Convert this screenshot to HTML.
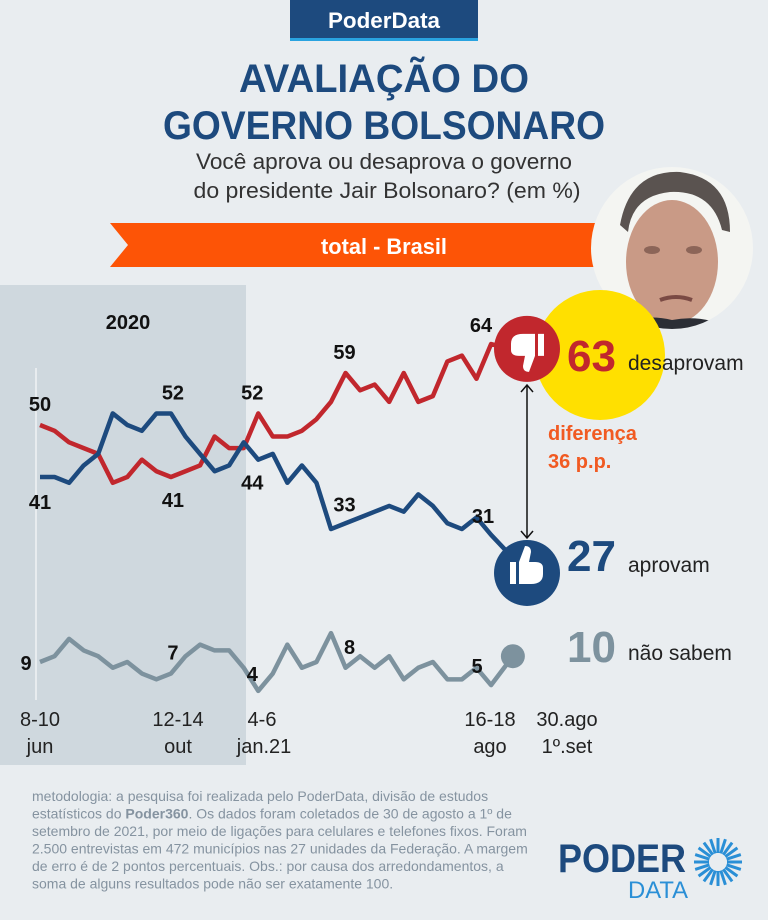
<!DOCTYPE html>
<html><head><meta charset="utf-8"><style>
html,body{margin:0;padding:0;background:#e9edf0;}
svg{display:block;font-family:"Liberation Sans",sans-serif;}
</style></head><body>
<svg id="chart" width="768" height="920" viewBox="0 0 768 920">
<rect x="0" y="0" width="768" height="920" fill="#e9edf0"/>
<g>
<rect x="290" y="0" width="188" height="38" fill="#1d4a7e"/>
<rect x="290" y="38" width="188" height="3" fill="#29a3e0"/>
<text x="384" y="28" text-anchor="middle" font-size="22" font-weight="bold" fill="#fff" textLength="112" lengthAdjust="spacingAndGlyphs">PoderData</text>
<text x="384" y="92" text-anchor="middle" font-size="40" font-weight="bold" fill="#1d4a7e" textLength="290" lengthAdjust="spacingAndGlyphs">AVALIAÇÃO DO</text>
<text x="384" y="139" text-anchor="middle" font-size="40" font-weight="bold" fill="#1d4a7e" textLength="442" lengthAdjust="spacingAndGlyphs">GOVERNO BOLSONARO</text>
<text x="384" y="169" text-anchor="middle" font-size="22" fill="#333" textLength="376" lengthAdjust="spacingAndGlyphs">Você aprova ou desaprova o governo</text>
<text x="387" y="198" text-anchor="middle" font-size="22" fill="#333" textLength="387" lengthAdjust="spacingAndGlyphs">do presidente Jair Bolsonaro?  (em %)</text>
<polygon points="110,223 600,223 600,267 110,267 128,245" fill="#fd5406"/>
<text x="384" y="254" text-anchor="middle" font-size="22" font-weight="bold" fill="#fff" textLength="126" lengthAdjust="spacingAndGlyphs">total - Brasil</text>
<g>
<circle cx="672" cy="248" r="81" fill="#f4f5f2"/>
<clipPath id="ph"><circle cx="672" cy="248" r="81"/></clipPath>
<g clip-path="url(#ph)">
<ellipse cx="672" cy="262" rx="46" ry="62" fill="#c99a86"/>
<path d="M620 225 Q630 170 680 172 Q730 178 730 232 L722 230 Q712 190 670 192 Q632 196 628 232 Z" fill="#5a5350"/>
<path d="M600 340 Q630 310 672 320 Q712 312 750 340 Z" fill="#2b2e35"/>
<ellipse cx="652" cy="250" rx="8" ry="4" fill="#8c6558"/>
<ellipse cx="694" cy="250" rx="8" ry="4" fill="#8c6558"/>
<path d="M660 300 Q676 294 692 300" stroke="#7a4a44" stroke-width="4" fill="none"/>
</g>
</g>
</g>
<rect x="0" y="285" width="246" height="480" fill="#cfd8de"/>
<text x="128" y="329" text-anchor="middle" font-size="20" font-weight="bold" fill="#111">2020</text>
<line x1="36" y1="368" x2="36" y2="700" stroke="#ffffff" stroke-width="1.5" opacity="0.7"/>
<circle cx="600" cy="355" r="65" fill="#ffe000"/>
<g id="plot"></g>
<g>
<text x="40" y="726" text-anchor="middle" font-size="20" fill="#222">8-10</text>
<text x="40" y="753" text-anchor="middle" font-size="20" fill="#222">jun</text>
<text x="178" y="726" text-anchor="middle" font-size="20" fill="#222">12-14</text>
<text x="178" y="753" text-anchor="middle" font-size="20" fill="#222">out</text>
<text x="262" y="726" text-anchor="middle" font-size="20" fill="#222">4-6</text>
<text x="264" y="753" text-anchor="middle" font-size="20" fill="#222">jan.21</text>
<text x="490" y="726" text-anchor="middle" font-size="20" fill="#222">16-18</text>
<text x="490" y="753" text-anchor="middle" font-size="20" fill="#222">ago</text>
<text x="567" y="726" text-anchor="middle" font-size="20" fill="#222">30.ago</text>
<text x="567" y="753" text-anchor="middle" font-size="20" fill="#222">1º.set</text>
</g>
<g>
<text x="567" y="371" font-size="44" font-weight="bold" fill="#c1272d">63</text>
<text x="628" y="370" font-size="21" fill="#222">desaprovam</text>
<text x="567" y="571" font-size="44" font-weight="bold" fill="#1d4a7e">27</text>
<text x="628" y="572" font-size="21" fill="#222">aprovam</text>
<text x="567" y="662" font-size="44" font-weight="bold" fill="#7d929e">10</text>
<text x="628" y="660" font-size="21" fill="#222">não sabem</text>
<text x="548" y="440" font-size="20" font-weight="bold" fill="#f15a22">diferença</text>
<text x="548" y="468" font-size="20" font-weight="bold" fill="#f15a22">36 p.p.</text>
<line x1="527" y1="385" x2="527" y2="538" stroke="#111" stroke-width="1.5"/>
<polyline points="521,392 527,385 533,392" fill="none" stroke="#111" stroke-width="1.5"/>
<polyline points="521,531 527,538 533,531" fill="none" stroke="#111" stroke-width="1.5"/>
</g>
<g font-size="14" fill="#8593a0">
<text x="32" y="801">metodologia: a pesquisa foi realizada pelo PoderData, divisão de estudos</text>
<text x="32" y="818.5">estatísticos do <tspan font-weight="bold">Poder360</tspan>. Os dados foram coletados de 30 de agosto a 1º de</text>
<text x="32" y="836">setembro de 2021, por meio de ligações para celulares e telefones fixos. Foram</text>
<text x="32" y="853.5">2.500 entrevistas em 472 municípios nas 27 unidades da Federação. A margem</text>
<text x="32" y="871">de erro é de 2 pontos percentuais. Obs.: por causa dos arredondamentos, a</text>
<text x="32" y="888.5">soma de alguns resultados pode não ser exatamente 100.</text>
</g>
<g>
<text x="558" y="872" font-size="40" font-weight="bold" fill="#1d4a7e" textLength="128" lengthAdjust="spacingAndGlyphs">PODER</text>
<text x="628" y="898" font-size="24" fill="#2a8fd6" textLength="60" lengthAdjust="spacingAndGlyphs">DATA</text>
<g id="sun"></g>
</g>
</svg>
<script>
const categories=["8-10 jun","","","","","","","","","12-14 out","","","","","","4-6 jan.21","","","","","","","","","","","","","","","","16-18 ago","30.ago-1º.set"];
const xIndex=[0,1,2,3,4,5,6,7,8,9,10,11,12,13,14,15,16,17,18,19,20,21,22,23,24,25,26,27,28,29,30,31,32.5];
const disapprove=[50,49,47,46,45,40,41,44,42,41,42,43,48,46,46,52,48,48,49,51,54,59,56,57,54,59,54,55,61,62,58,64,63];
const approve=[41,41,40,43,45,52,50,49,52,52,48,45,42,43,47,44,45,40,43,40,32,33,34,35,36,35,38,36,33,32,34,31,27];
const dontKnow=[9,10,13,11,10,8,9,7,6,7,10,12,11,11,8,4,7,12,8,9,14,8,10,8,10,6,8,9,6,6,8,5,10];
const NS="http://www.w3.org/2000/svg";
const plot=document.getElementById('plot');
function xs(i){return 40+i*14.55;}
function ys(v){return 714-v*5.78;}
function drawLine(vals,color,name){
  const pl=document.createElementNS(NS,'polyline');
  pl.setAttribute('points',vals.map((v,i)=>xs(xIndex[i])+','+ys(v)).join(' '));
  pl.setAttribute('fill','none');pl.setAttribute('stroke',color);pl.setAttribute('stroke-width','4.5');pl.setAttribute('stroke-linejoin','round');
  
  
  plot.appendChild(pl);
}
function lbl(x,y,t,anchor,name){
  const e=document.createElementNS(NS,'text');
  e.setAttribute('x',x);e.setAttribute('y',y);e.setAttribute('font-size','20');e.setAttribute('font-weight','bold');e.setAttribute('fill','#111');e.setAttribute('text-anchor',anchor||'middle');
  e.textContent=t;
  
  
  plot.appendChild(e);
}
drawLine(dontKnow,'#7d929e','dont-know-line');
drawLine(disapprove,'#c1272d','disapprove-line');
drawLine(approve,'#1d4a7e','approve-line');
lbl(xs(0),ys(disapprove[0])-14,disapprove[0],'middle','disapprove-label-first');
lbl(xs(0),ys(approve[0])+32,approve[0],'middle','approve-label-first');
lbl(xs(0)-14,ys(dontKnow[0])+8,dontKnow[0],'middle','dont-know-label-first');
lbl(xs(9)+2,ys(Math.max(...approve.slice(8,10)))-14,Math.max(...approve.slice(8,10)),'middle','approve-label-peak');
lbl(xs(9)+2,ys(disapprove[9])+30,disapprove[9],'middle','disapprove-label-low');
lbl(xs(9)+2,ys(dontKnow[9])-14,dontKnow[9],'middle','dont-know-label-oct');
lbl(xs(15)-6,ys(disapprove[15])-14,disapprove[15],'middle','disapprove-label-jan');
lbl(xs(15)-6,ys(approve[15])+30,approve[15],'middle','approve-label-jan');
lbl(xs(15)-6,ys(dontKnow[15])-10,dontKnow[15],'middle','dont-know-label-jan');
lbl(xs(21)-1,ys(disapprove[21])-14,disapprove[21],'middle','disapprove-label-59');
lbl(xs(21)-1,ys(approve[21])-12,approve[21],'middle','approve-label-33');
lbl(xs(21)+4,ys(dontKnow[21])-14,dontKnow[21],'middle','dont-know-label-8');
lbl(xs(31)-10,ys(disapprove[31])-12,disapprove[31],'middle','disapprove-label-64');
lbl(xs(31)-8,ys(approve[31])-12,approve[31],'middle','approve-label-31');
lbl(xs(31)-14,ys(dontKnow[31])-12,dontKnow[31],'middle','dont-know-label-5');
const last=dontKnow.length-1;
const g=document.createElementNS(NS,'circle');
g.setAttribute('cx',xs(xIndex[last]));g.setAttribute('cy',ys(dontKnow[last]));g.setAttribute('r','12');g.setAttribute('fill','#7d929e');


plot.appendChild(g);
function thumb(cy,color,down,name){
  const grp=document.createElementNS(NS,'g');
  
  
  const c=document.createElementNS(NS,'circle');
  c.setAttribute('cx',527);c.setAttribute('cy',cy);c.setAttribute('r','33');c.setAttribute('fill',color);
  grp.appendChild(c);
  const p=document.createElementNS(NS,'path');
  p.setAttribute('d','M510 338 h6 v22 h-6 z M519 338 v22 l12 -0 q12 0 12 -10 l0 -6 q0 -6 -8 -6 h-6 l2 -10 q0 -6 -6 -6 z');
  p.setAttribute('fill','#fff');
  p.setAttribute('transform',down?'translate(0,'+(cy-345)+') rotate(180 527 345)':'translate(0,'+(cy-349)+')');
  grp.appendChild(p);
  plot.appendChild(grp);
}
thumb(ys(disapprove[last])-1,'#c1272d',true,'disapprove-end-icon');
thumb(ys(approve[last])+15,'#1d4a7e',false,'approve-end-icon');
const sun=document.getElementById('sun');
for(let k=0;k<20;k++){
  const a=k*Math.PI*2/20;
  const l=document.createElementNS(NS,'line');
  l.setAttribute('x1',718+Math.cos(a)*9);l.setAttribute('y1',862+Math.sin(a)*9);
  l.setAttribute('x2',718+Math.cos(a)*24);l.setAttribute('y2',862+Math.sin(a)*24);
  l.setAttribute('stroke','#2a8fd6');l.setAttribute('stroke-width','3');
  
  
  sun.appendChild(l);
}
</script>
</body></html>
